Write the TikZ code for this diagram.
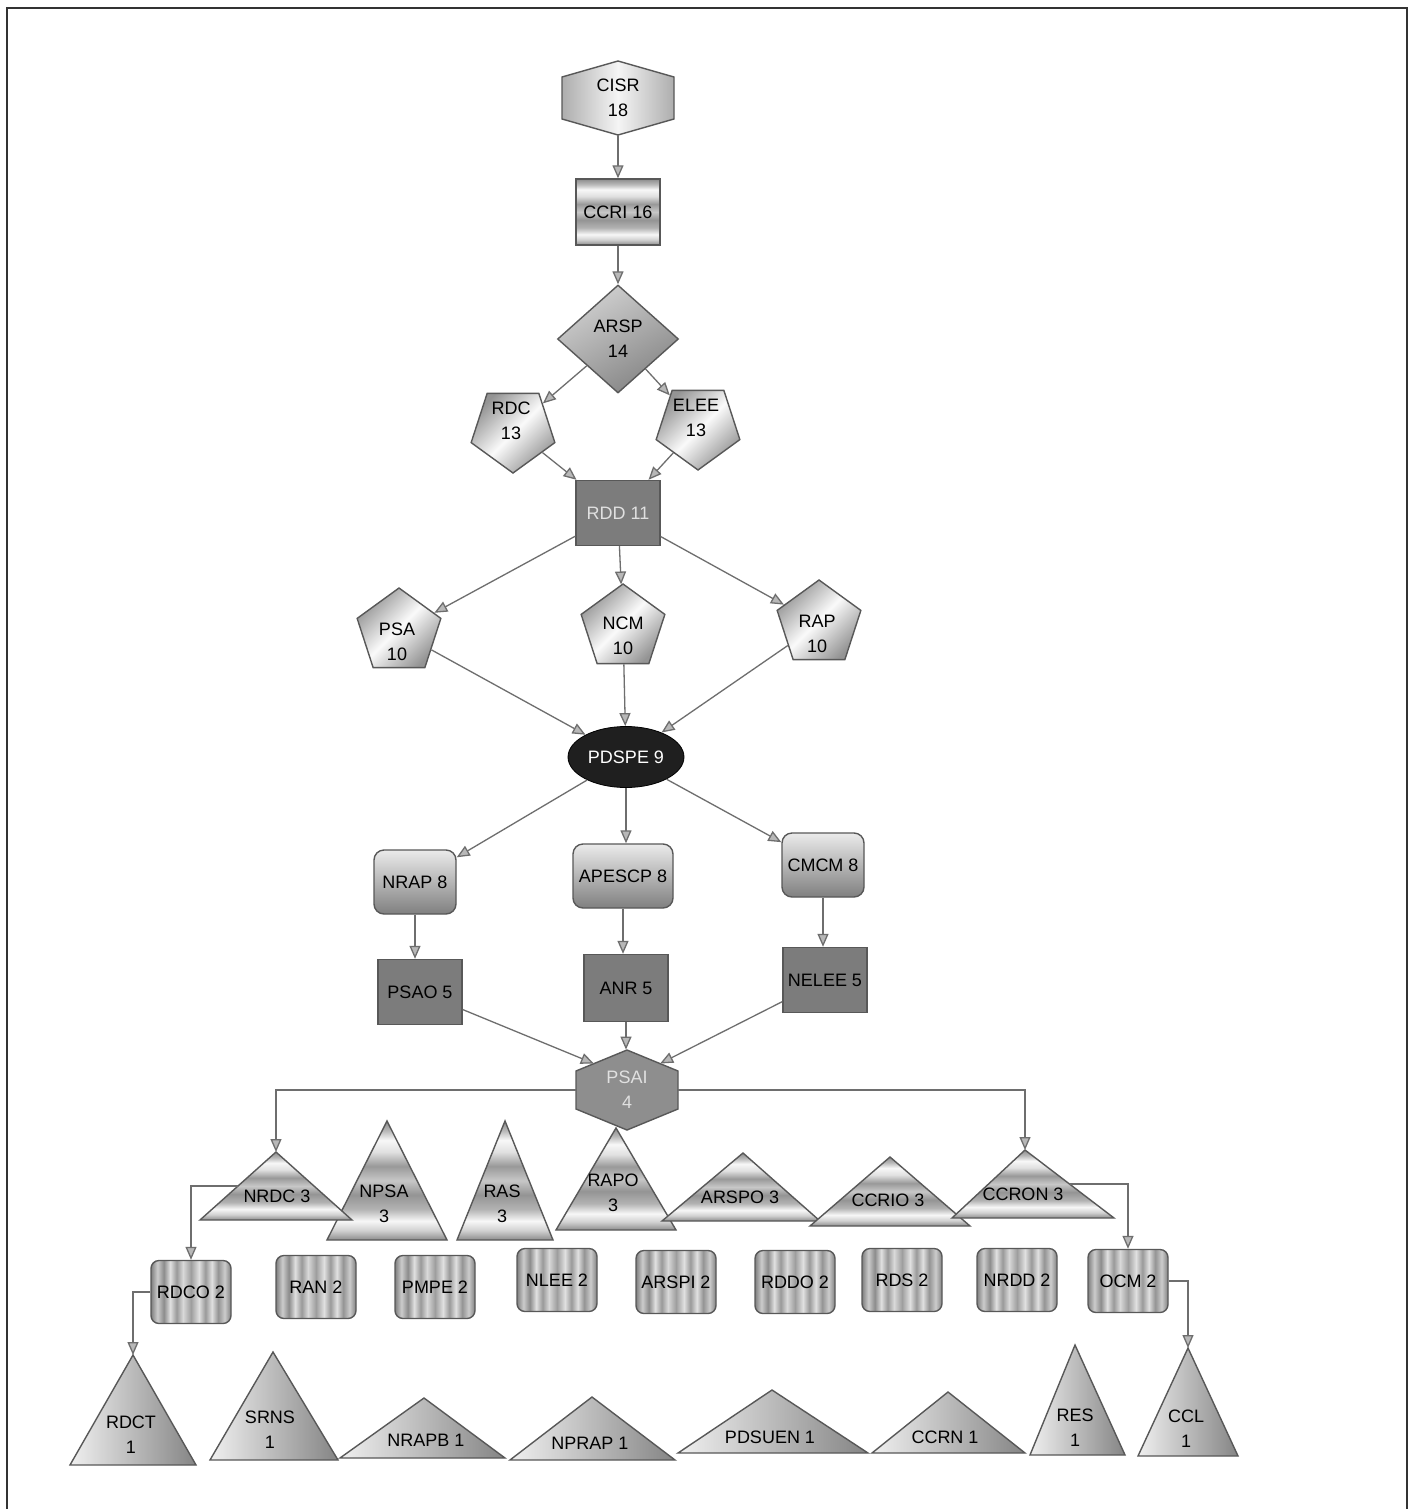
\documentclass[tikz,border=0pt]{standalone}
\usepackage{fontspec}
\setmainfont{Liberation Sans}
\usetikzlibrary{arrows.meta,shapes.geometric,calc}

\definecolor{edgec}{HTML}{6E6E6E}
\definecolor{bordc}{HTML}{585858}
\definecolor{tipc}{HTML}{B8B8B8}
\definecolor{darkc}{HTML}{7C7C7C}
\definecolor{psaic}{HTML}{8E8E8E}

\pgfdeclareverticalshading{hbands}{100bp}{color(0bp)=(black!45); color(25bp)=(black!45); color(29bp)=(black!18); color(33bp)=(black!3); color(38bp)=(black!30); color(44bp)=(black!42); color(50bp)=(black!22); color(56bp)=(black!40); color(62bp)=(black!12); color(67bp)=(black!3); color(71bp)=(black!28); color(75bp)=(black!45); color(100bp)=(black!45)}
\pgfdeclarehorizontalshading{vbands}{100bp}{color(0bp)=(black!50); color(25bp)=(black!50); color(29bp)=(black!20); color(33bp)=(black!45); color(37bp)=(black!12); color(41bp)=(black!40); color(45bp)=(black!15); color(50bp)=(black!38); color(55bp)=(black!12); color(59bp)=(black!40); color(63bp)=(black!12); color(67bp)=(black!42); color(71bp)=(black!20); color(75bp)=(black!50); color(100bp)=(black!50)}

% triangle: name, apex x, apex y, left x, right x, base y, style
\newcommand\MyTri[7]{%
  \coordinate (#1-a) at (#2,#3);
  \coordinate (#1-bl) at (#4,#6);
  \coordinate (#1-br) at (#5,#6);
  \path[#7] (#1-bl) -- (#1-a) -- (#1-br) -- cycle;
}
% hexagon: name, cx, cy, half width, half height, rise, shape style, text style, text
\newcommand\MyHex[9]{%
  \path[#7] (#2,#3-#5) -- (#2+#4,#3-#5+#6) -- (#2+#4,#3+#5-#6) -- (#2,#3+#5)
     -- (#2-#4,#3+#5-#6) -- (#2-#4,#3-#5+#6) -- cycle;
  \coordinate (#1-nw) at (#2-#4,#3-#5+#6);
  \coordinate (#1-ne) at (#2+#4,#3-#5+#6);
  \node[#8, inner sep=0pt, minimum width=#4pt, minimum height=#5pt] (#1) at (#2,#3) {#9};
}

\begin{document}
\begin{tikzpicture}[x=0.5pt,y=-0.5pt,
  txt/.style={font=\fontsize{9pt}{12.5pt}\selectfont, align=center, inner sep=0pt, text=black},
  bd/.style={draw=bordc, line width=0.7pt},
  arr/.style={draw=edgec, line width=0.65pt, -{Triangle[length=6.5pt,width=5.5pt,fill=tipc]}},
  pent/.style={regular polygon, regular polygon sides=5, minimum size=44pt, inner sep=0pt, bd,
     top color=black!42, bottom color=black!42, middle color=black!2, shading angle=45},
  dbox/.style={rectangle, bd, fill=darkc, minimum width=42pt, minimum height=32.5pt, txt},
  lbox/.style={rectangle, rounded corners=5pt, bd, top color=black!8, bottom color=black!50, minimum height=32pt, txt},
  sq/.style={rectangle, rounded corners=4pt, bd, shade, shading=vbands, minimum width=40pt, minimum height=31.5pt, txt},
  midtri/.style={bd, shade, shading=hbands},
  lowtri/.style={bd, left color=black!6, right color=black!48},
]
\fill[white] (0,0) rectangle (1416,1509);
\useasboundingbox (0,0) rectangle (1416,1509);
\clip (0,0) rectangle (1416,1509);
\draw[black!80, line width=1.1pt] (7,8) rectangle (1407,1540);

% top part
\MyHex{cisr}{618}{98}{56}{37}{16}{bd, left color=black!32, right color=black!32, middle color=black!4}{txt}{CISR\\18}
\node[rectangle, bd, shade, shading=hbands, minimum width=42pt, minimum height=33pt, txt] (ccri) at (618,212) {CCRI 16};
\node[diamond, bd, top color=black!18, bottom color=black!48, shading angle=30, minimum width=60.5pt, minimum height=54pt, txt] (arsp) at (618,339) {ARSP\\14};
\node[pent, shape border rotate=180] (rdc) at (513,429) {};
\node[txt] (rdc-t) at (511,421) {RDC\\13};
\node[pent, shape border rotate=180] (elee) at (698,426) {};
\node[txt] (elee-t) at (696,418) {ELEE\\13};
\node[dbox, text=black!12] (rdd) at (618,513) {RDD 11};
\node[pent] (psa) at (399,632) {};
\node[txt] (psa-t) at (397,642) {PSA\\10};
\node[pent] (ncm) at (623,628) {};
\node[txt] (ncm-t) at (623,636) {NCM\\10};
\node[pent] (rap) at (819,624) {};
\node[txt] (rap-t) at (817,634) {RAP\\10};
\node[ellipse, draw=black, fill=black!88, minimum width=58pt, minimum height=30.5pt, txt, text=white] (pdspe) at (626,757) {PDSPE 9};
\node[lbox, minimum width=41pt] (nrap) at (415,882) {NRAP 8};
\node[lbox, minimum width=50pt] (apescp) at (623,876) {APESCP 8};
\node[lbox, minimum width=41pt] (cmcm) at (823,865) {CMCM 8};
\node[dbox] (psao) at (420,992) {PSAO 5};
\node[dbox, minimum height=33.5pt] (anr) at (626,988) {ANR 5};
\node[dbox] (nelee) at (825,980) {NELEE 5};

% middle row of triangles
\MyTri{npsa}{387}{1121}{327}{447}{1240}{midtri}
\MyTri{nrdc}{276}{1152}{200}{352}{1220}{midtri}
\MyTri{ras}{505}{1121}{457}{553}{1240}{midtri}
\MyTri{rapo}{616}{1128}{556}{676}{1230}{midtri}
\MyTri{arspo}{743}{1153}{662}{820}{1221}{midtri}
\MyTri{ccrio}{890}{1157}{810}{970}{1226}{midtri}
\MyTri{ccron}{1025}{1150}{952}{1114}{1218}{midtri}
\node[txt] (nrdc) at (277,1196) {NRDC 3};
\node[txt] (npsa) at (384,1204) {NPSA\\3};
\node[txt] (ras) at (502,1204) {RAS\\3};
\node[txt] (rapo) at (613,1193) {RAPO\\3};
\node[txt] (arspo) at (740,1197) {ARSPO 3};
\node[txt] (ccrio) at (888,1200) {CCRIO 3};
\node[txt] (ccron) at (1023,1194) {CCRON 3};

\MyHex{psai}{627}{1090}{51}{40}{21}{bd, fill=psaic}{txt, text=black!12}{PSAI\\4}

% row of rounded squares
\node[sq] (rdco) at (191,1292) {RDCO 2};
\node[sq] (ran) at (316,1287) {RAN 2};
\node[sq] (pmpe) at (435,1287) {PMPE 2};
\node[sq] (nlee) at (557,1280) {NLEE 2};
\node[sq] (arspi) at (676,1282) {ARSPI 2};
\node[sq] (rddo) at (795,1282) {RDDO 2};
\node[sq] (rds) at (902,1280) {RDS 2};
\node[sq] (nrdd) at (1017,1280) {NRDD 2};
\node[sq] (ocm) at (1128,1281) {OCM 2};

% bottom row of triangles
\MyTri{rdct}{133}{1355}{70}{196}{1465}{lowtri}
\MyTri{srns}{273}{1352}{210}{338}{1460}{lowtri}
\MyTri{nrapb}{424}{1398}{340}{505}{1458}{lowtri}
\MyTri{nprap}{592}{1397}{510}{675}{1460}{lowtri}
\MyTri{pdsuen}{772}{1390}{678}{868}{1453}{lowtri}
\MyTri{ccrn}{948}{1392}{872}{1025}{1453}{lowtri}
\MyTri{res}{1075}{1345}{1030}{1125}{1455}{lowtri}
\MyTri{ccl}{1188}{1348}{1138}{1238}{1456}{lowtri}
\node[txt] (rdct) at (131,1435) {RDCT\\1};
\node[txt] (srns) at (270,1430) {SRNS\\1};
\node[txt] (nrapb) at (426,1440) {NRAPB 1};
\node[txt] (nprap) at (590,1443) {NPRAP 1};
\node[txt] (pdsuen) at (770,1437) {PDSUEN 1};
\node[txt] (ccrn) at (945,1437) {CCRN 1};
\node[txt] (res) at (1075,1428) {RES\\1};
\node[txt] (ccl) at (1186,1429) {CCL\\1};

% connectors
\draw[arr] (cisr) -- (ccri);
\draw[arr] (ccri) -- (arsp);
\draw[arr] (arsp) -- (rdc);
\draw[arr] (arsp) -- (elee);
\draw[arr] (rdc) -- (rdd);
\draw[arr] (elee) -- (rdd);
\draw[arr] (rdd) -- (psa);
\draw[arr] (rdd) -- (ncm);
\draw[arr] (rdd) -- (rap);
\draw[arr] (psa) -- (pdspe);
\draw[arr] (ncm) -- (pdspe);
\draw[arr] (rap) -- (pdspe);
\draw[arr] (pdspe) -- (nrap);
\draw[arr] (pdspe) -- (pdspe |- apescp.north);
\draw[arr] (pdspe) -- (cmcm);
\draw[arr] (nrap) -- (nrap |- psao.north);
\draw[arr] (apescp) -- (apescp |- anr.north);
\draw[arr] (cmcm) -- (cmcm |- nelee.north);
\draw[arr] (psao) -- ($(psai-nw)!0.35!(psai.north)$);
\draw[arr] (anr) -- (anr |- psai.north);
\draw[arr] (nelee) -- ($(psai-ne)!0.35!(psai.north)$);
\draw[arr] (psai.west) -| (nrdc-a);
\draw[arr] (psai.east) -| (ccron-a);
\draw[arr] ($(nrdc-bl)!0.5!(nrdc-a)$) -| (rdco.north);
\draw[arr] ($(ccron-br)!0.5!(ccron-a)$) -| (ocm.north);
\draw[arr] (rdco.west) -| (rdct-a);
\draw[arr] (ocm.east) -| (ccl-a);
\end{tikzpicture}
\end{document}
